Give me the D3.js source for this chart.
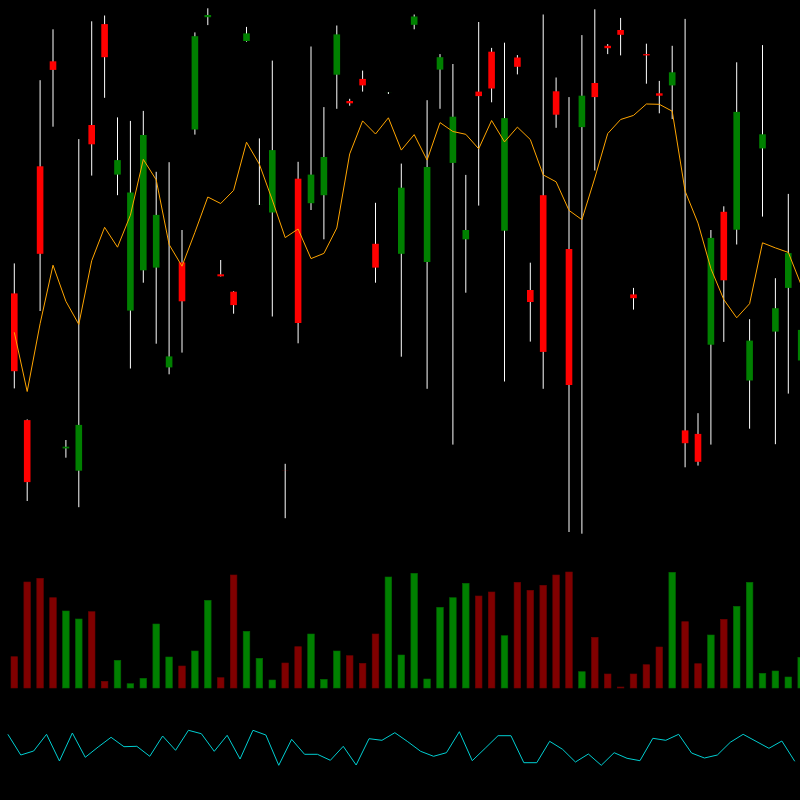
<!DOCTYPE html>
<html><head><meta charset="utf-8">
<script src="https://cdn.jsdelivr.net/npm/d3@7"></script>
<style>html,body{margin:0;padding:0;background:#000;}svg{display:block;}</style>
</head><body>
<script>
const opens  = [246.6,119.9,373.7,478.7,91.6,69.3,415,515.9,365.4,229.4,269.7,272.4,172.6,277.6,410.5,522.8,265.7,248.3,499,335.9,327.5,70.0,361.3,336.8,344.8,465.3,439.0,461.1,296.2,447.0,286.2,515.2,278,470.4,377.1,300.7,448.4,488.3,309.3,482.5,250,344.8,448.7,291,412.9,457,494.2,510,245.6,485.9,446.7,454.6,109.6,106.1,195.3,328.2,310.3,159.5,391.6,208.4,252.1,179.5];
const closes = [168.8,57.9,286.2,470.1,93.3,115.1,395.7,482.8,379.9,347.5,405,325.1,183.6,238.7,503.8,525.0,263.7,234.9,506.6,336.0,389.9,69.9,217,365.4,383,505.6,436.7,454.6,272.4,447.1,352.3,523.5,373,482.8,423.3,310,443.9,451.5,421.9,473.2,238,188.1,425.3,155,444.3,442.9,491.8,505.2,241.8,484.6,444.3,467.7,96.8,78.2,302.1,259.7,428.1,199.4,405.7,231.8,286.9,210.1];
const highs  = [276.6,120.6,459.8,510.7,100,400.9,518.7,524.5,422.6,419.1,429.1,368.2,377.8,310,507.6,531.7,280,248.8,513.1,401.6,479.4,76.2,378.2,493.5,432.9,514.5,441.2,469.4,337.2,448,376.4,525.5,439.8,485.9,476,365.1,518,492.1,497.3,484.9,277.3,525.5,462.5,442.9,504.9,530.7,495.9,522.1,252.1,496.3,459.1,494.2,521.1,126.8,310,333.7,477.7,220.8,494.9,261.8,346.1,240];
const lows   = [151.6,39,229,413.3,82.3,32.8,364.4,442.2,344.8,171.5,257.3,196.3,165.7,187.4,405.4,514.9,263.5,226.3,498.3,335,223.5,21.8,196.7,330,300.7,431.2,434.3,448.4,257.3,446,183.3,510.7,151.2,431.2,95.4,247.3,334.4,437.7,158.5,465.6,198.4,151.2,412.2,8,6.3,369.5,485.9,484.6,230.4,456.3,426.7,420.9,72.7,74.4,95.4,198.1,295.5,111.3,323.4,95.8,146.4,160];
const volumes = [31.3,106,109.7,90.3,77,69,76.3,6.7,27.7,4.3,9.7,64,31,22,37,87.7,10.3,113,56.7,29.7,8,25,41.3,54,8.7,37,32.3,24.7,54,111,33,114.7,9,80.7,90.3,104.7,92,96,52.3,105.7,97.7,102.7,113,116,16.3,50.7,14,1,14,23.3,41,115.7,66.3,24.3,53,68.7,81.7,105.7,14.7,17,11,30.7];
const movingAvg = [207.7,148.5,216.3,274.8,238.7,215.6,279.3,312.7,292.8,324.8,380.6,360.2,295.5,273.8,307.6,343,336.5,349.6,397.8,375.7,340,302.4,311,281.4,286.6,312,386.1,419.1,406,422.2,389.9,405.4,379.9,417.4,408.5,405.7,391.2,419.5,398.1,412.9,400.5,365.1,358.2,329.6,320.3,362,406.4,420.5,424.6,436,435.7,428.8,348.9,316.9,271.4,240.4,222.2,236.3,297.2,292.1,287.6,255];
const oscillator = [65.7,45,49,65.7,39,67,42.7,53,62.7,53.3,53.7,43.7,64,49.7,69.7,66.3,48.7,64.7,41,69.7,65,34.7,60.7,45.7,45.7,39.7,53.7,35,61.3,59.7,67.3,58.3,48.7,43.7,47.3,68.3,39.3,51.7,64.3,64.3,37.3,37.3,58.7,50.7,38,46,34.7,47.3,41.7,39.3,61.7,59.7,65.7,47,42,45,57.7,65.7,58.7,51.7,59,38.7];

const W = 800, H = 800;
const n = opens.length;
const idx = d3.range(n);
const svg = d3.select("body").append("svg").attr("width", W).attr("height", H).style("background", "#000");
svg.append("rect").attr("width", W).attr("height", H).attr("fill", "#000");

const x = d3.scaleLinear().domain([0, n - 1]).range([14.3, 801.2]);
const step = x(1) - x(0);
const bw = 6.6;
const y = d3.scaleLinear().domain([0, 540]).range([540, 0]);
const yv = d3.scaleLinear().domain([0, 120]).range([688, 568]);
const yo = d3.scaleLinear().domain([0, 100]).range([800, 700]);

const up = i => closes[i] >= opens[i];

// wicks
svg.append("g").selectAll("line").data(idx).join("line")
  .attr("x1", i => x(i)).attr("x2", i => x(i))
  .attr("y1", i => y(highs[i])).attr("y2", i => y(lows[i]))
  .attr("stroke", "#ffffff").attr("stroke-width", 1);

// bodies
svg.append("g").selectAll("rect").data(idx).join("rect")
  .attr("x", i => x(i) - bw / 2)
  .attr("width", bw)
  .attr("y", i => Math.min(y(opens[i]), y(closes[i])))
  .attr("height", i => Math.abs(y(opens[i]) - y(closes[i])))
  .attr("fill", i => up(i) ? "#008000" : "#ff0000");

// moving average
svg.append("path").datum(idx)
  .attr("fill", "none").attr("stroke", "#ffa500").attr("stroke-width", 1)
  .attr("d", d3.line().x(i => x(i)).y(i => y(movingAvg[i])));

// volume
svg.append("g").selectAll("rect").data(idx).join("rect")
  .attr("x", i => x(i) - bw / 2)
  .attr("width", bw)
  .attr("y", i => yv(volumes[i]))
  .attr("height", i => yv(0) - yv(volumes[i]))
  .attr("fill", i => up(i) ? "#008000" : "#800000")
  .attr("stroke", i => up(i) ? "#006400" : "#6a0000").attr("stroke-width", 0.6);

// oscillator
svg.append("path").datum(idx)
  .attr("fill", "none").attr("stroke", "#00ced1").attr("stroke-width", 1)
  .attr("d", d3.line().x(i => x(i) - step / 2).y(i => yo(oscillator[i])));
</script>
</body></html>
